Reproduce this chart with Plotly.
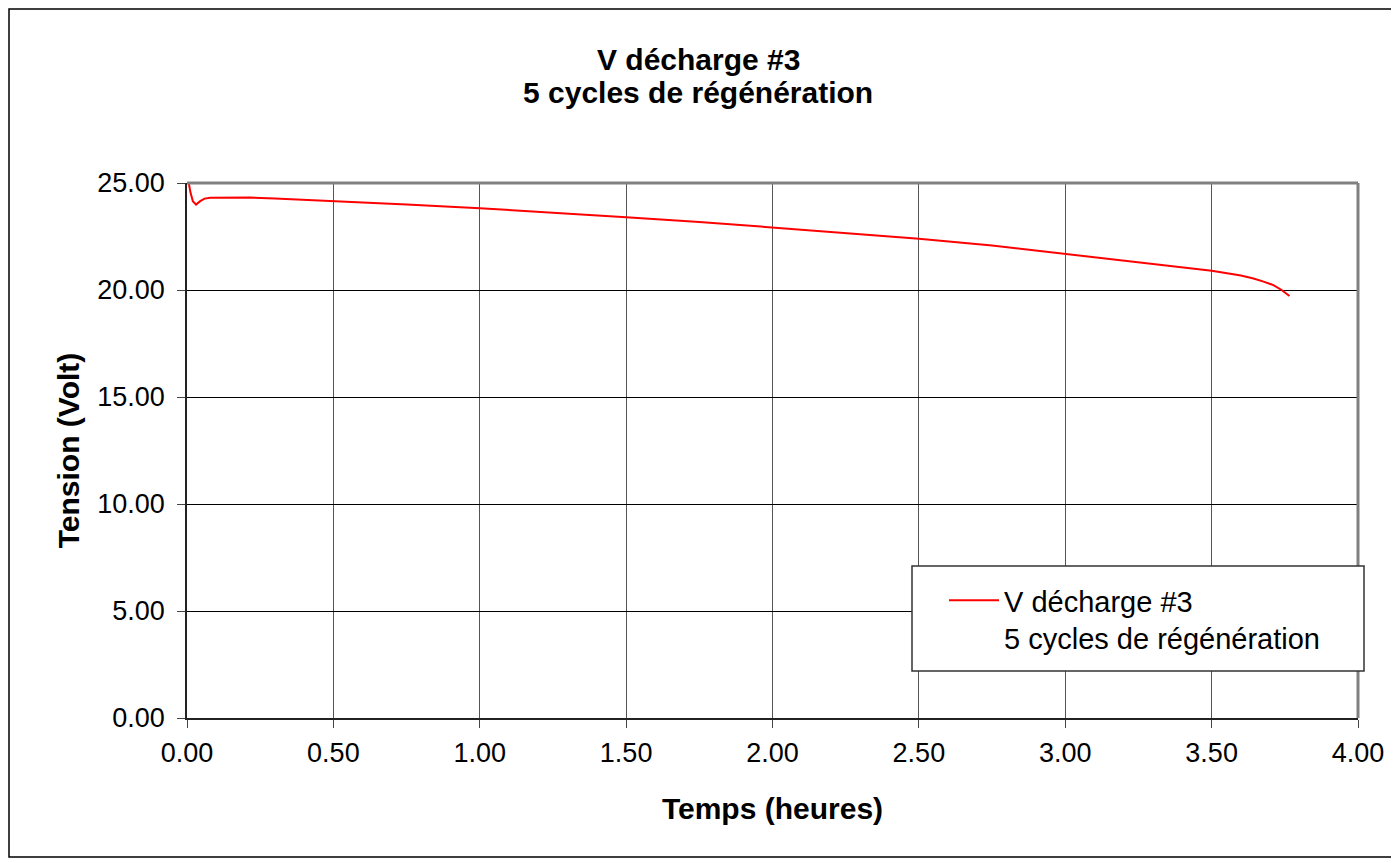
import plotly.graph_objects as go

# Data
temps_heures = [0.006, 0.012, 0.02, 0.031, 0.045, 0.06, 0.079, 0.15, 0.215, 0.30, 0.40, 0.50,
                0.75, 1.00, 1.25, 1.50, 1.75, 2.00, 2.25, 2.50, 2.75, 2.845, 3.00, 3.25,
                3.50, 3.60, 3.643, 3.68, 3.711, 3.739, 3.766]
tension_volt = [25.00, 24.55, 24.15, 23.99, 24.15, 24.27, 24.31, 24.33, 24.32, 24.28, 24.22, 24.16,
                24.00, 23.82, 23.62, 23.40, 23.18, 22.93, 22.67, 22.40, 22.08, 21.93, 21.71, 21.32,
                20.90, 20.68, 20.54, 20.38, 20.23, 20.00, 19.72]

x_ticks = [0.0, 0.5, 1.0, 1.5, 2.0, 2.5, 3.0, 3.5, 4.0]
y_ticks = [0, 5, 10, 15, 20, 25]

series_name = "V décharge #3<br>5 cycles de régénération"
title_line1 = "V décharge #3"
title_line2 = "5 cycles de régénération"
x_title = "Temps (heures)"
y_title = "Tension (Volt)"

FONT = "Liberation Sans, Arial, Helvetica, sans-serif"

fig = go.Figure()
fig.add_trace(go.Scatter(
    x=temps_heures, y=tension_volt, mode="lines", name=series_name,
    line=dict(color="#ff0000", width=2), showlegend=True,
))

# page has an 8px body margin: figure drawn at (8, 8)
OFF = 8
W, H = 1391, 855
L, R, T, B = 179, 41, 175, 145
pw, ph = W - L - R, H - T - B

def px(xpage):
    return (xpage - OFF - L) / pw

def py(ypage):
    return (H - B - (ypage - OFF)) / ph

fig.update_layout(
    width=W, height=H, autosize=False,
    margin=dict(l=L, r=R, t=T, b=B, pad=0),
    paper_bgcolor="white", plot_bgcolor="white",
    font=dict(family=FONT, color="black", size=27),
    xaxis=dict(range=[0, 4], tickvals=x_ticks, tickformat=".2f",
               showgrid=True, gridcolor="#555555", gridwidth=1,
               showline=True, linecolor="#222222", linewidth=1.5,
               ticks="outside", ticklen=8, tickcolor="#444444", tickwidth=1,
               ticklabelstandoff=2,
               zeroline=False, fixedrange=True,
               title=dict(text="<b>" + x_title + "</b>", standoff=31,
                          font=dict(size=30, family=FONT))),
    yaxis=dict(range=[0, 25], tickvals=y_ticks, tickformat=".2f",
               showgrid=True, gridcolor="#000000", gridwidth=1,
               showline=True, linecolor="#222222", linewidth=1.5,
               ticks="outside", ticklen=8, tickcolor="#444444", tickwidth=1,
               ticklabelstandoff=7,
               zeroline=False, fixedrange=True,
               title=dict(text="<b>" + y_title + "</b>", standoff=9,
                          font=dict(size=30, family=FONT))),
    legend=dict(x=px(944), y=py(575), xanchor="left", yanchor="top",
                bgcolor="rgba(0,0,0,0)", borderwidth=0,
                font=dict(size=29, family=FONT), valign="top",
                itemwidth=50),
    annotations=[
        dict(text="<b>" + title_line1 + "</b>", xref="paper", yref="paper",
             x=px(698), y=py(60), xanchor="center", yanchor="middle",
             showarrow=False, font=dict(size=30, family=FONT, color="black")),
        dict(text="<b>" + title_line2 + "</b>", xref="paper", yref="paper",
             x=px(698), y=py(93), xanchor="center", yanchor="middle",
             showarrow=False, font=dict(size=30, family=FONT, color="black")),
    ],
    shapes=[
        # plot area border (top / right, grey)
        dict(type="line", xref="paper", yref="paper", x0=0, x1=1, y0=1, y1=1,
             line=dict(color="#808080", width=3), layer="above"),
        dict(type="line", xref="paper", yref="paper", x0=1, x1=1, y0=0, y1=1,
             line=dict(color="#808080", width=3), layer="above"),
        # legend frame
        dict(type="rect", xref="paper", yref="paper",
             x0=px(912), x1=px(1364), y0=py(671), y1=py(566),
             line=dict(color="#333333", width=1.5), fillcolor="white", layer="above"),
        # outer chart frame
        dict(type="rect", xref="paper", yref="paper",
             x0=px(9), x1=px(1395), y0=py(857), y1=py(9),
             line=dict(color="#000000", width=1.5), fillcolor="rgba(0,0,0,0)", layer="above"),
    ],
)

fig.write_html("out.html")
